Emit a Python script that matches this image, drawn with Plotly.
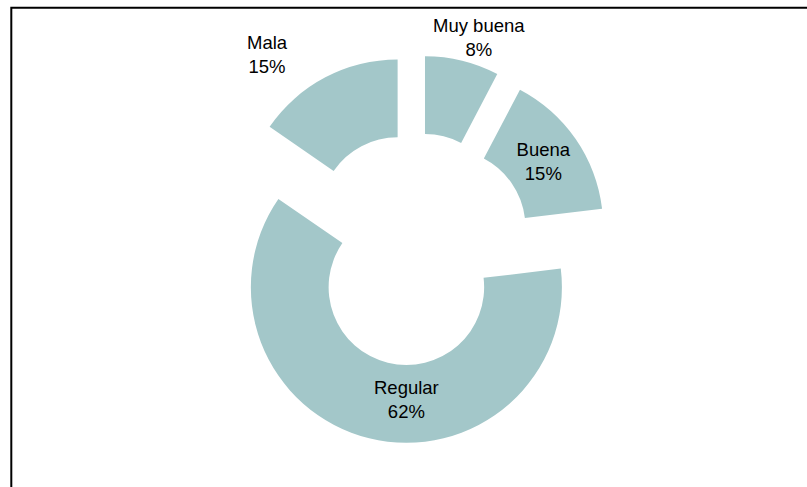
import plotly.graph_objects as go

categories = ["Muy buena", "Buena", "Regular", "Mala"]
counts = [1, 2, 8, 2]
slice_color = "#a3c7c9"

# label placement: which slices get their label drawn by the pie itself
inside_label = [False, True, True, False]
outside_label_pos = {"Muy buena": (479 / 807, 1 - 37.5 / 487), "Mala": (267 / 807, 1 - 55 / 487)}

total = sum(counts)
label_font = dict(family="Liberation Sans, Arial, sans-serif", size=18.5, color="#000000")

fig = go.Figure(
    go.Pie(
        labels=categories,
        values=counts,
        sort=False,
        direction="clockwise",
        rotation=0,
        hole=0.5,
        pull=[0.25] * len(categories),
        marker=dict(colors=[slice_color] * len(categories), line=dict(width=0)),
        texttemplate=["%{label}<br>%{percent:.0%}" if s else "" for s in inside_label],
        textposition="inside",
        insidetextorientation="horizontal",
        textfont=label_font,
        showlegend=False,
        automargin=False,
        hoverinfo="label+percent",
        domain=dict(x=[0.2053, 0.8249], y=[0.0885, 0.8869]),
    )
)

annotations = []
for cat, cnt, s in zip(categories, counts, inside_label):
    if s:
        continue
    x, y = outside_label_pos[cat]
    annotations.append(
        dict(
            x=x, y=y, xref="paper", yref="paper",
            text=f"{cat}<br>{round(100 * cnt / total)}%",
            showarrow=False, xanchor="center", yanchor="middle",
            font=label_font,
        )
    )

fig.update_layout(
    width=807,
    height=487,
    autosize=False,
    margin=dict(l=0, r=0, t=0, b=0, pad=0, autoexpand=False),
    paper_bgcolor="#ffffff",
    plot_bgcolor="#ffffff",
    uniformtext=dict(mode="show", minsize=18.5),
    annotations=annotations,
    shapes=[
        dict(
            type="rect",
            xref="paper",
            yref="paper",
            x0=11.3 / 807,
            x1=1.05,
            y0=-0.05,
            y1=1 - 7.7 / 487,
            line=dict(color="#000000", width=2),
            fillcolor="rgba(0,0,0,0)",
            layer="above",
        )
    ],
)

fig.write_html(
    "out.html",
    config={"displayModeBar": False},
    post_script="document.body.style.margin='0px';",
)
